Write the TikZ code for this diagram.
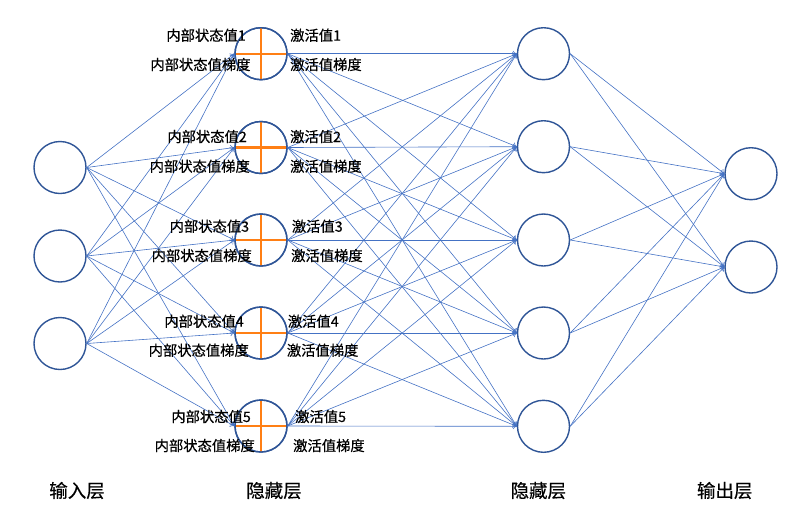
\documentclass[tikz,border=0pt]{standalone}
\usepackage{fontspec}
\setmainfont{Noto Sans CJK SC}[BoldFont=Noto Sans CJK SC,BoldFeatures={FakeBold=0.4}]
\usetikzlibrary{arrows.meta}
\definecolor{edgeblue}{RGB}{68,114,196}
\definecolor{ringblue}{RGB}{47,85,151}
\definecolor{crossorange}{RGB}{255,127,20}
\begin{document}
\begin{tikzpicture}[x=1pt,y=-1pt,
  neuron/.style={circle,draw=ringblue,line width=1.4pt,minimum size=52pt,inner sep=0pt,fill=white},
  conn/.style={draw=edgeblue,line width=0.6pt,-{To[length=4pt,width=6pt]}},
  crossline/.style={draw=crossorange,line width=2.4pt},
  lbl/.style={font=\fontsize{14.3}{17}\selectfont\bfseries,inner sep=0pt},
  layer/.style={font=\fontsize{18.5}{22}\selectfont\bfseries,inner sep=0pt}]
\useasboundingbox (0,0) rectangle (796,523);
% input layer
\node[neuron] (in1) at (60,167.5) {};
\node[neuron] (in2) at (60,256) {};
\node[neuron] (in3) at (60,343.5) {};
% hidden layer 1
\node[neuron] (ha1) at (261,53.7) {};
\node[neuron] (ha2) at (261,147.5) {};
\node[neuron] (ha3) at (261,240) {};
\node[neuron] (ha4) at (261,333) {};
\node[neuron] (ha5) at (261,426) {};
% hidden layer 2
\node[neuron] (hb1) at (543.5,53.7) {};
\node[neuron] (hb2) at (543.5,146.7) {};
\node[neuron] (hb3) at (543.5,240) {};
\node[neuron] (hb4) at (543.5,333) {};
\node[neuron] (hb5) at (543.5,426.3) {};
% output layer
\node[neuron] (out1) at (751,173.7) {};
\node[neuron] (out2) at (751,267) {};
% crosses
\foreach \j in {1,...,5}{
  \draw[crossline] (ha\j.center) +(0,-25.5) -- +(0,25.5);
  \draw[crossline] (ha\j.center) +(-25.5,0) -- +(25.5,0);
  \draw[draw=ringblue,line width=1.4pt] (ha\j.center) circle (26pt);
}
% connections
\foreach \i in {1,2,3}{\foreach \j in {1,...,5}{\draw[conn] (in\i.east) -- (ha\j.west);}}
\foreach \i in {1,...,5}{\foreach \j in {1,...,5}{\draw[conn] (ha\i.east) -- (hb\j.west);}}
\foreach \i in {1,...,5}{\foreach \j in {1,2}{\draw[conn] (hb\i.east) -- (out\j.west);}}
% labels hidden 1
\node[lbl,anchor=base east] (l1a) at (246,40.7) {内部状态值1};
\node[lbl,anchor=base east] (l1b) at (250.7,70) {内部状态值梯度};
\node[lbl,anchor=base west] (r1a) at (290,40.7) {激活值1};
\node[lbl,anchor=base west] (r1b) at (290,70) {激活值梯度};
\node[lbl,anchor=base east] (l2a) at (247,142) {内部状态值2};
\node[lbl,anchor=base east] (l2b) at (250,171.7) {内部状态值梯度};
\node[lbl,anchor=base west] (r2a) at (290,142) {激活值2};
\node[lbl,anchor=base west] (r2b) at (290,171.7) {激活值梯度};
\node[lbl,anchor=base east] (l3a) at (249.3,231.7) {内部状态值3};
\node[lbl,anchor=base east] (l3b) at (252,261) {内部状态值梯度};
\node[lbl,anchor=base west] (r3a) at (291.7,231.7) {激活值3};
\node[lbl,anchor=base west] (r3b) at (291,261) {激活值梯度};
\node[lbl,anchor=base east] (l4a) at (244,326.7) {内部状态值4};
\node[lbl,anchor=base east] (l4b) at (249,355.7) {内部状态值梯度};
\node[lbl,anchor=base west] (r4a) at (287.7,326.7) {激活值4};
\node[lbl,anchor=base west] (r4b) at (286.7,355.7) {激活值梯度};
\node[lbl,anchor=base east] (l5a) at (251,422) {内部状态值5};
\node[lbl,anchor=base east] (l5b) at (255,451) {内部状态值梯度};
\node[lbl,anchor=base west] (r5a) at (295,422) {激活值5};
\node[lbl,anchor=base west] (r5b) at (293,451) {激活值梯度};
% layer labels
\node[layer,anchor=base] (t1) at (77,497.5) {输入层};
\node[layer,anchor=base] (t2) at (274,497.5) {隐藏层};
\node[layer,anchor=base] (t3) at (538.3,497.5) {隐藏层};
\node[layer,anchor=base] (t4) at (724.7,497.5) {输出层};
\end{tikzpicture}
\end{document}
